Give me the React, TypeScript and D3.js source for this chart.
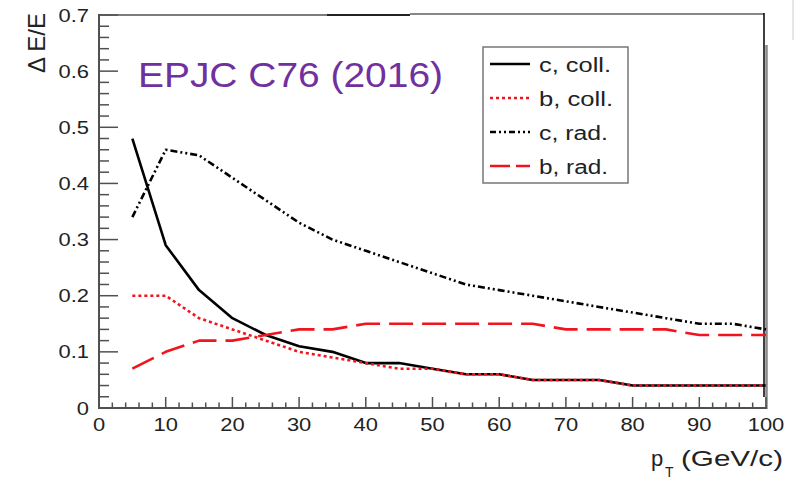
import React from "react";
import * as d3 from "d3";

const pt = [5, 10, 15, 20, 25, 30, 35, 40, 45, 50, 55, 60, 65, 70, 75, 80, 85, 90, 95, 100];
const cColl = [0.48, 0.29, 0.21, 0.16, 0.13, 0.11, 0.10, 0.08, 0.08, 0.07, 0.06, 0.06, 0.05, 0.05, 0.05, 0.04, 0.04, 0.04, 0.04, 0.04];
const bColl = [0.20, 0.20, 0.16, 0.14, 0.12, 0.10, 0.09, 0.08, 0.07, 0.07, 0.06, 0.06, 0.05, 0.05, 0.05, 0.04, 0.04, 0.04, 0.04, 0.04];
const cRad = [0.34, 0.46, 0.45, 0.41, 0.37, 0.33, 0.30, 0.28, 0.26, 0.24, 0.22, 0.21, 0.20, 0.19, 0.18, 0.17, 0.16, 0.15, 0.15, 0.14];
const bRad = [0.07, 0.10, 0.12, 0.12, 0.13, 0.14, 0.14, 0.15, 0.15, 0.15, 0.15, 0.15, 0.15, 0.14, 0.14, 0.14, 0.14, 0.13, 0.13, 0.13];

const xTicks = [0, 10, 20, 30, 40, 50, 60, 70, 80, 90, 100];
const yTicks = [0, 0.1, 0.2, 0.3, 0.4, 0.5, 0.6, 0.7];
const yTickLabels = ["0", "0.1", "0.2", "0.3", "0.4", "0.5", "0.6", "0.7"];

const seriesNames = ["c, coll.", "b, coll.", "c, rad.", "b, rad."];

const RED = "#f0141e";
const AX = "#505050";

export default function App() {
  const x = d3.scaleLinear().domain([0, 100]).range([99, 766]);
  const y = d3.scaleLinear().domain([0, 0.7]).range([408, 15]);

  const line = (vals: number[]) =>
    d3.line<number>().x((_, i) => x(pt[i])).y((v) => y(v))(vals) || "";

  const series = [
    { name: seriesNames[0], vals: cColl, color: "#000", dash: "", w: 2.6 },
    { name: seriesNames[1], vals: bColl, color: RED, dash: "3 3", w: 2.6 },
    { name: seriesNames[2], vals: cRad, color: "#000", dash: "7 3 2 3 2 3", w: 2.6 },
    { name: seriesNames[3], vals: bRad, color: RED, dash: "24 9", w: 2.6 },
  ];
  const legendDash = ["", "3 3", "6 3 2 3 2 3", "20 6"];
  const legendTextW = [72, 74, 69, 69];

  const minorY = d3.range(0, 0.7001, 0.02);
  const minorX = d3.range(0, 100.001, 2);

  const font = "'Liberation Sans', Arial, Helvetica, sans-serif";

  return (
    <svg width={804} height={479} style={{ position: "absolute", left: 0, top: 0, background: "#fff" }} fontFamily={font}>
      <rect x={0} y={0} width={804} height={479} fill="#fff" />
      <line x1={793} y1={0} x2={793} y2={40} stroke="#dcdcdc" strokeWidth={1.5} />

      {/* frame */}
      <line x1={99} y1={15} x2={327} y2={15} stroke={AX} strokeWidth={1.5} />
      <line x1={327} y1={15} x2={410} y2={15} stroke="#222" strokeWidth={2} />
      <line x1={410} y1={14} x2={764} y2={14} stroke="#111" strokeWidth={1.2} />
      <line x1={764} y1={13} x2={764} y2={397} stroke="#000" strokeWidth={1.5} />
      <line x1={766.5} y1={45} x2={766.5} y2={409} stroke="#8a8a8a" strokeWidth={2.5} />
      <line x1={99} y1={14} x2={99} y2={409} stroke={AX} strokeWidth={2} />
      <line x1={98} y1={408} x2={767} y2={408} stroke={AX} strokeWidth={2} />

      {minorY.map((v, i) => {
        const major = i % 5 === 0;
        return (
          <line key={"yt" + i} x1={99} x2={99 + (major ? 19 : 10)} y1={y(v)} y2={y(v)} stroke={AX} strokeWidth={1.5} />
        );
      })}
      {minorX.map((v, i) => {
        const major = i % 5 === 0;
        return (
          <line key={"xt" + i} x1={x(v)} x2={x(v)} y1={408} y2={408 - (major ? 11 : 5.5)} stroke={AX} strokeWidth={1.5} />
        );
      })}

      {yTicks.map((v, i) => (
        <text key={"yl" + i} transform={`translate(89,${y(v) + 6.5}) scale(1.22,1)`} textAnchor="end" fontSize={18} fill="#222">
          {yTickLabels[i]}
        </text>
      ))}
      {xTicks.map((v) => (
        <text key={"xl" + v} transform={`translate(${x(v)},${431}) scale(1.22,1)`} textAnchor="middle" fontSize={18} fill="#222">
          {v}
        </text>
      ))}

      <text transform="translate(45,73) rotate(-90)" fontSize={24} fill="#222" textLength={60} lengthAdjust="spacingAndGlyphs">
        Δ E/E
      </text>
      <text x={651} y={466} fontSize={22} fill="#222">p</text>
      <text x={665} y={477} fontSize={14} fill="#222">T</text>
      <text x={681} y={466} fontSize={22} fill="#222" textLength={102} lengthAdjust="spacingAndGlyphs">(GeV/c)</text>

      <text x={138} y={87} fontSize={35} fill="#7030a0" textLength={305} lengthAdjust="spacingAndGlyphs">
        EPJC C76 (2016)
      </text>

      {series.map((s, i) => (
        <path key={"s" + i} d={line(s.vals)} fill="none" stroke={s.color} strokeWidth={s.w} strokeDasharray={s.dash} strokeLinejoin="round" />
      ))}

      <rect x={483} y={47} width={145} height={136} fill="#fff" stroke="#777" strokeWidth={1.5} />
      {series.map((s, i) => {
        const ry = 64 + i * 34;
        return (
          <g key={"lg" + i}>
            <line x1={490} x2={530} y1={ry} y2={ry} stroke={s.color} strokeWidth={2.6} strokeDasharray={legendDash[i]} />
            <text x={539} y={ry + 8} fontSize={20} fill="#222" textLength={legendTextW[i]} lengthAdjust="spacingAndGlyphs">
              {s.name}
            </text>
          </g>
        );
      })}
    </svg>
  );
}
